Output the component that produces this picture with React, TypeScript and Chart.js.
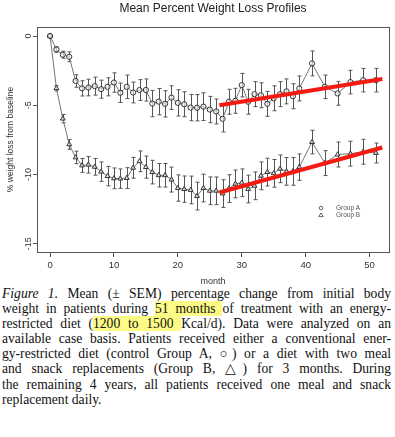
import React, { useEffect, useRef } from "react";
import { Chart, registerables } from "chart.js";

Chart.register(...registerables);

// ---- data ----
const months = [
  0, 1, 2, 3, 4, 5, 6, 7, 8, 9, 10, 11, 12, 13, 14, 15, 16, 17, 18, 19, 20,
  21, 22, 23, 24, 25, 26, 27, 28, 29, 30, 31, 32, 33, 34, 35, 36, 37, 38, 39,
  41, 43, 45, 47, 49, 51,
];
const groupA = [
  0, -0.97, -1.35, -1.5, -3.25, -3.78, -3.72, -3.62, -3.84, -3.67, -3.36,
  -4.1, -3.67, -4.08, -3.9, -3.9, -4.88, -4.74, -4.9, -4.45, -4.83, -4.93,
  -5.17, -5.18, -5.1, -5.31, -5.45, -5.98, -4.75, -4.68, -3.55, -4.75, -4.2,
  -4.28, -4.9, -4.5, -4.2, -4.0, -4.35, -3.79, -1.98, -3.67, -4.15, -3.33,
  -3.19, -3.19,
];
const groupASem = [
  0, 0.2, 0.25, 0.35, 0.45, 0.55, 0.6, 0.65, 0.65, 0.65, 0.7, 0.7, 0.85, 0.75,
  0.75, 0.8, 0.95, 0.95, 0.95, 0.85, 0.95, 0.9, 0.95, 0.95, 1.0, 0.95, 0.9,
  0.95, 0.9, 0.9, 0.85, 0.9, 0.9, 0.9, 0.9, 0.9, 0.9, 0.9, 0.9, 0.9, 0.9,
  0.85, 0.85, 0.85, 0.85, 0.85,
];
const groupB = [
  0, -3.77, -5.97, -7.83, -8.77, -9.35, -9.3, -9.45, -9.8, -10.12, -10.28,
  -10.3, -10.26, -9.52, -9.05, -9.47, -9.83, -10.06, -10.06, -10.37, -10.98,
  -11.06, -11.12, -11.56, -10.98, -11.18, -11.18, -11.38, -11.02, -10.68,
  -10.6, -11.05, -10.82, -10.1, -9.83, -9.92, -9.59, -9.78, -9.78, -9.47,
  -7.66, -9.18, -8.56, -8.5, -8.36, -8.45,
];
const groupBSem = [
  0, 0.2, 0.3, 0.35, 0.45, 0.5, 0.6, 0.6, 0.7, 0.7, 0.75, 0.7, 0.75, 0.75,
  0.75, 0.8, 0.85, 0.85, 0.85, 0.9, 0.95, 0.95, 1.0, 1.0, 1.0, 1.0, 1.0, 1.0,
  1.0, 1.0, 1.0, 1.0, 1.0, 1.0, 1.0, 1.0, 1.0, 1.0, 1.0, 0.95, 0.85, 0.9,
  0.9, 0.9, 0.9, 0.72,
];
const trendMonths = [26.5, 52];
const trendA = [-5.0, -3.1];
const trendB = [-11.3, -8.05];
const xTicks = [0, 10, 20, 30, 40, 50];
const yTicks = [-15, -10, -5, 0];
const seriesNames = ["Group A", "Group B"];
const chartTitle = "Mean Percent Weight Loss Profiles";
const xTitle = "month";
const yTitle = "% weight loss from baseline";

const SANS = "'Liberation Sans', Arial, sans-serif";
const INK = "#333";

export default function App() {
  const ref = useRef<HTMLCanvasElement>(null);

  useEffect(() => {
    const canvas = ref.current;
    if (!canvas) return;

    const errorBars = {
      id: "errorBars",
      beforeDatasetsDraw(chart: any) {
        const { ctx, scales } = chart;
        const xs = scales.x;
        const ys = scales.y;
        ctx.save();
        ctx.strokeStyle = "#555";
        ctx.lineWidth = 1;
        const groups = [
          [groupA, groupASem],
          [groupB, groupBSem],
        ];
        for (const [vals, sems] of groups) {
          for (let i = 0; i < months.length; i++) {
            if (!sems[i]) continue;
            const x = Math.round(xs.getPixelForValue(months[i])) + 0.5;
            const yt = ys.getPixelForValue(vals[i] + sems[i]);
            const yb = ys.getPixelForValue(vals[i] - sems[i]);
            ctx.beginPath();
            ctx.moveTo(x, yt);
            ctx.lineTo(x, yb);
            ctx.moveTo(x - 2, yt);
            ctx.lineTo(x + 2, yt);
            ctx.moveTo(x - 2, yb);
            ctx.lineTo(x + 2, yb);
            ctx.stroke();
          }
        }
        ctx.restore();
      },
    };

    const decor = {
      id: "decor",
      afterDraw(chart: any) {
        const { ctx, chartArea, scales } = chart;
        const ys = scales.y;
        ctx.save();
        // box
        ctx.strokeStyle = "#555";
        ctx.lineWidth = 1;
        ctx.strokeRect(
          Math.round(chartArea.left) + 0.5,
          Math.round(chartArea.top) + 0.5,
          Math.round(chartArea.right - chartArea.left),
          Math.round(chartArea.bottom - chartArea.top)
        );
        // title
        ctx.fillStyle = "#222";
        ctx.font = `12px ${SANS}`;
        ctx.textAlign = "center";
        ctx.textBaseline = "middle";
        ctx.fillText(chartTitle, (chartArea.left + chartArea.right) / 2, 9);
        // x title
        ctx.fillStyle = INK;
        ctx.font = `9px ${SANS}`;
        ctx.fillText(xTitle, (chartArea.left + chartArea.right) / 2, 282);
        // y tick labels (rotated)
        for (const v of yTicks) {
          const y = ys.getPixelForValue(v);
          ctx.save();
          ctx.translate(28.5, y);
          ctx.rotate(-Math.PI / 2);
          ctx.fillText(String(v), 0, 0);
          ctx.restore();
        }
        // y title
        ctx.save();
        ctx.translate(10.5, (chartArea.top + chartArea.bottom) / 2);
        ctx.rotate(-Math.PI / 2);
        ctx.font = `8.5px ${SANS}`;
        ctx.fillText(yTitle, 0, 0);
        ctx.restore();
        // legend
        const lx = chartArea.right - 68;
        const ly = chartArea.bottom - 44;
        ctx.strokeStyle = "#444";
        ctx.lineWidth = 0.8;
        ctx.beginPath();
        ctx.arc(lx, ly, 1.8, 0, Math.PI * 2);
        ctx.stroke();
        ctx.beginPath();
        ctx.moveTo(lx, ly + 5);
        ctx.lineTo(lx + 2.2, ly + 8.6);
        ctx.lineTo(lx - 2.2, ly + 8.6);
        ctx.closePath();
        ctx.stroke();
        ctx.font = `6.5px ${SANS}`;
        ctx.textAlign = "left";
        ctx.fillStyle = "#555";
        ctx.fillText(seriesNames[0], lx + 15, ly);
        ctx.fillText(seriesNames[1], lx + 15, ly + 7);
        ctx.restore();
      },
    };

    const toPts = (xs: number[], ys: number[]) =>
      xs.map((x, i) => ({ x, y: ys[i] }));

    const chart = new Chart(canvas, {
      type: "line",
      data: {
        datasets: [
          {
            label: "trendA",
            data: toPts(trendMonths, trendA),
            borderColor: "#f51a12",
            borderWidth: 4,
            pointRadius: 0,
            borderCapStyle: "butt",
          },
          {
            label: "trendB",
            data: toPts(trendMonths, trendB),
            borderColor: "#f51a12",
            borderWidth: 4,
            pointRadius: 0,
            borderCapStyle: "butt",
          },
          {
            label: seriesNames[0],
            data: toPts(months, groupA),
            borderColor: "#777",
            borderWidth: 1,
            pointStyle: "circle",
            pointRadius: 2.6,
            pointBorderColor: "#333",
            pointBackgroundColor: "rgba(255,255,255,0.6)",
            pointBorderWidth: 1,
            tension: 0,
          },
          {
            label: seriesNames[1],
            data: toPts(months, groupB),
            borderColor: "#777",
            borderWidth: 1,
            pointStyle: "triangle",
            pointRadius: 2.8,
            pointBorderColor: "#333",
            pointBackgroundColor: "rgba(255,255,255,0.6)",
            pointBorderWidth: 1,
            tension: 0,
          },
        ],
      },
      options: {
        responsive: false,
        animation: false,
        devicePixelRatio: 1,
        layout: { padding: { top: 27, right: 6, left: 0, bottom: 0 } },
        plugins: {
          legend: { display: false },
          title: { display: false },
          tooltip: { enabled: false },
        },
        scales: {
          x: {
            type: "linear",
            min: -2.04,
            max: 53.04,
            afterBuildTicks: (s: any) => {
              s.ticks = xTicks.map((v) => ({ value: v }));
            },
            afterFit: (s: any) => {
              s.height = 34;
            },
            border: { display: false },
            grid: {
              drawOnChartArea: false,
              drawTicks: true,
              tickLength: 5,
              tickColor: "#555",
              color: "#555",
            },
            ticks: {
              font: { family: SANS, size: 9.5 },
              color: INK,
              padding: 3,
              maxRotation: 0,
              autoSkip: false,
            },
          },
          y: {
            type: "linear",
            min: -15.6,
            max: 0.65,
            afterBuildTicks: (s: any) => {
              s.ticks = yTicks.map((v) => ({ value: v }));
            },
            afterFit: (s: any) => {
              s.width = 37;
            },
            border: { display: false },
            grid: {
              drawOnChartArea: false,
              drawTicks: true,
              tickLength: 4,
              tickColor: "#555",
              color: "#555",
            },
            ticks: {
              font: { family: SANS, size: 9 },
              color: "rgba(0,0,0,0)",
              autoSkip: false,
            },
          },
        },
      },
      plugins: [errorBars, decor],
    } as any);

    return () => chart.destroy();
  }, []);

  const hl = { background: "#fbfb86" };
  const line = {
    textAlign: "justify" as const,
    textAlignLast: "justify" as const,
  };

  return (
    <div
      style={{
        position: "absolute",
        left: 0,
        top: 0,
        width: 395,
        height: 437,
        background: "#fff",
        overflow: "hidden",
      }}
    >
      <canvas
        ref={ref}
        width={395}
        height={286}
        style={{ position: "absolute", left: 0, top: 0, width: 395, height: 286 }}
      />
      <div
        style={{
          position: "absolute",
          left: 2,
          top: 286,
          width: 389,
          fontFamily: "'Liberation Serif', 'Times New Roman', serif",
          fontSize: 13.6,
          lineHeight: "15.1px",
          color: "#111",
        }}
      >
        <div style={line}>
          <i>Figure 1.</i> Mean (± SEM) percentage change from initial body
        </div>
        <div style={line}>
          weight in patients during <span style={hl}>51 months </span>of
          treatment with an energy-
        </div>
        <div style={line}>
          restricted diet (<span style={hl}>1200 to 1500 </span>Kcal/d). Data
          were analyzed on an
        </div>
        <div style={line}>
          available case basis. Patients received either a conventional ener-
        </div>
        <div style={line}>
          gy-restricted diet (control Group A, ○) or a diet with two meal
        </div>
        <div style={line}>
          and snack replacements (Group B, △) for 3 months. During
        </div>
        <div style={line}>
          the remaining 4 years, all patients received one meal and snack
        </div>
        <div>replacement daily.</div>
      </div>
    </div>
  );
}
